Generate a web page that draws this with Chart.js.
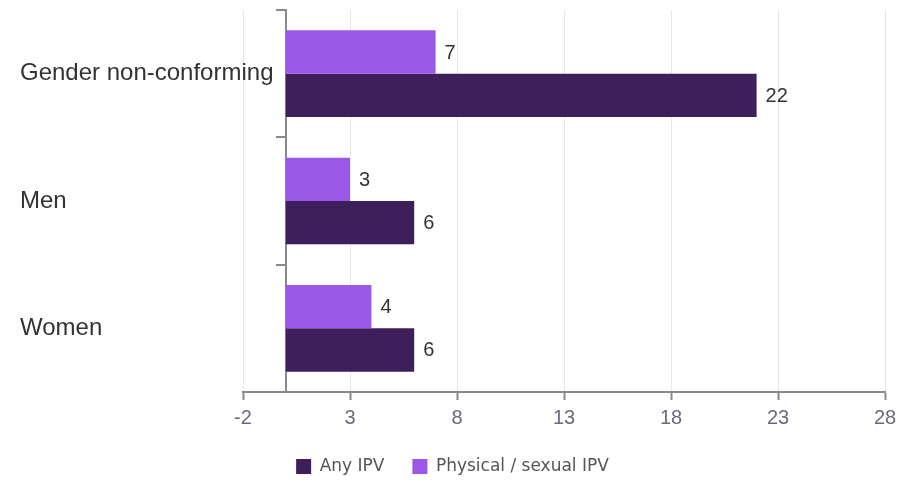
<!DOCTYPE html>
<html>
<head>
<meta charset="utf-8">
<script src="https://cdn.jsdelivr.net/npm/chart.js@4.4.1/dist/chart.umd.min.js"></script>
<style>
  html, body { margin: 0; padding: 0; background: #fff; }
  #wrap { width: 916px; height: 481px; }
</style>
</head>
<body>
<div id="wrap"><canvas id="chart"></canvas></div>
<script>
// Données
const categories = ['Gender non-conforming', 'Men', 'Women']
const physicalSexualIPV = [7, 3, 4]
const anyIPV = [22, 6, 6]
const xTicks = [-2, 3, 8, 13, 18, 23, 28]

const darkPurple = '#3d1f5b'
const lightPurple = '#9a58e6'

// Petit plugin pour écrire la valeur au bout de chaque barre
const valueLabels = {
    id: 'valueLabels',
    afterDatasetsDraw(chart) {
        const ctx = chart.ctx
        ctx.save()
        ctx.font = '20px "Liberation Sans", Arial, sans-serif'
        ctx.fillStyle = '#333'
        ctx.textAlign = 'left'
        ctx.textBaseline = 'middle'
        chart.data.datasets.forEach((ds, i) => {
            chart.getDatasetMeta(i).data.forEach((bar, j) => {
                ctx.fillText(ds.data[j], bar.x + 9, bar.y + 1)
            })
        })
        ctx.restore()
    }
}

const ctx = document.getElementById('chart').getContext('2d')
const myChart = new Chart(ctx, {
    type: 'bar',
    data: {
        labels: categories,
        datasets: [{
            label: 'Physical / sexual IPV',
            data: physicalSexualIPV,
            backgroundColor: lightPurple
        }, {
            label: 'Any IPV',
            data: anyIPV,
            backgroundColor: darkPurple
        }]
    },
    plugins: [valueLabels],
    options: {
        indexAxis: 'y',
        responsive: true,
        maintainAspectRatio: false,
        animation: false,
        categoryPercentage: 0.68,
        barPercentage: 1.0,
        layout: {
            padding: { left: 20, right: 31, top: 10, bottom: 0 }
        },
        scales: {
            x: {
                type: 'linear',
                min: -2,
                max: 28,
                afterBuildTicks: scale => {
                    scale.ticks = xTicks.map(v => ({ value: v }))
                },
                afterFit: scale => { scale.height = 38 },
                grid: {
                    color: '#e8e8e8',
                    tickColor: '#8a8a8a',
                    tickWidth: 2,
                    tickLength: 8
                },
                border: { color: '#8a8a8a', width: 2 },
                ticks: {
                    padding: 6,
                    color: '#6a6a7c',
                    font: { family: '"Liberation Sans", Arial, sans-serif', size: 20 }
                }
            },
            y: {
                position: { x: 0 },
                grid: {
                    drawOnChartArea: false,
                    color: '#8a8a8a',
                    lineWidth: 2,
                    tickLength: 9
                },
                border: { color: '#8a8a8a', width: 2 },
                ticks: { display: false }
            },
            // axe servant seulement aux noms des catégories, alignés à gauche
            yLabels: {
                type: 'category',
                axis: 'y',
                position: 'left',
                offset: true,
                afterFit: scale => {
                    scale.width = 223
                    scale.paddingTop = 0
                    scale.paddingBottom = 0
                },
                grid: { display: false, drawTicks: false },
                border: { display: false },
                ticks: {
                    mirror: true,
                    padding: -223,
                    color: '#333',
                    font: { family: '"Liberation Sans", Arial, sans-serif', size: 24 }
                }
            }
        },
        plugins: {
            legend: {
                position: 'bottom',
                reverse: true,
                maxHeight: 51,
                labels: {
                    boxWidth: 15,
                    boxHeight: 15,
                    padding: 28,
                    color: '#555',
                    font: { family: '"DejaVu Sans", sans-serif', size: 17 }
                }
            },
            tooltip: { enabled: false }
        }
    }
})
</script>
</body>
</html>
